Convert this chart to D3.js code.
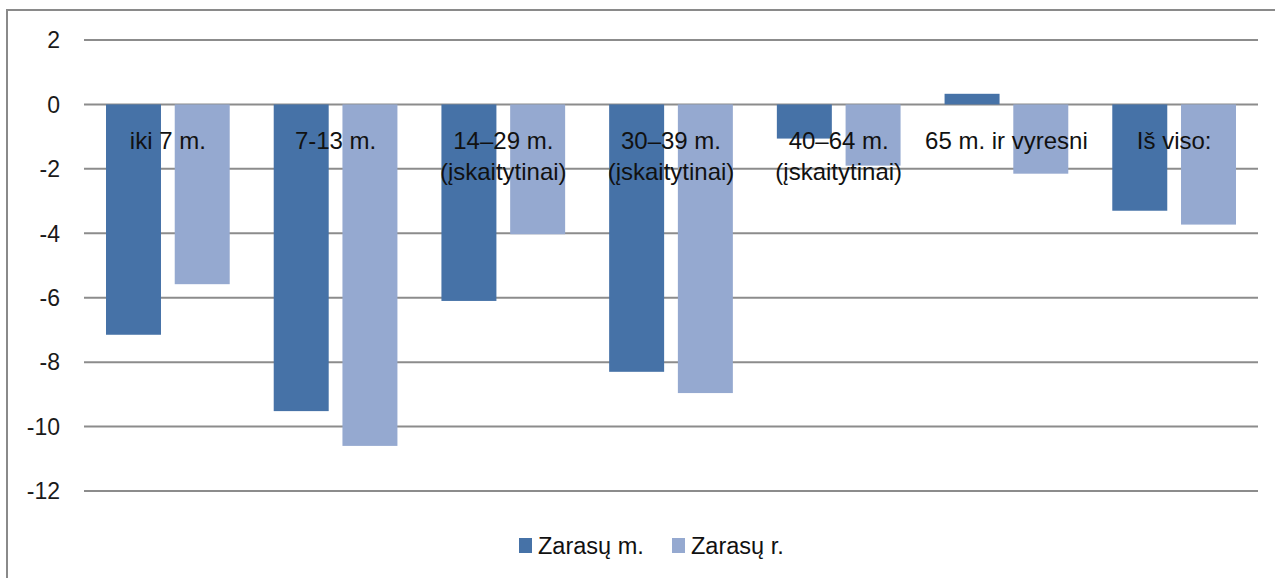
<!DOCTYPE html>
<html><head><meta charset="utf-8">
<script src="https://cdn.jsdelivr.net/npm/d3@7"></script>
<style>body{margin:0;background:#fff;} svg{display:block;}</style>
</head><body>
<svg id="c" width="1275" height="578"></svg>
<script>
const categories = [["iki 7 m."],["7-13 m."],["14–29 m.","(įskaitytinai)"],["30–39 m.","(įskaitytinai)"],["40–64 m.","(įskaitytinai)"],["65 m. ir vyresni"],["Iš viso:"]];
const seriesNames = ["Zarasų m.","Zarasų r."];
const zarasuM = [-7.15,-9.52,-6.1,-8.3,-1.06,0.33,-3.3];
const zarasuR = [-5.58,-10.6,-4.03,-8.96,-1.9,-2.15,-3.73];
const yTicks = [2,0,-2,-4,-6,-8,-10,-12];
const colors = ["#4672A7","#95A9D0"];

const svg = d3.select("#c");
const font = "'Liberation Sans', Arial, sans-serif";
// border
svg.append("path").attr("d","M7,578 V10 H1275").attr("fill","none").attr("stroke","#8a8a8a").attr("stroke-width",2);

const x0 = d3.scaleBand().domain(d3.range(categories.length)).range([84,1258]).paddingInner(0).paddingOuter(0);
const x1 = d3.scaleBand().domain([0,1]).range([22,x0.bandwidth()-22]).paddingInner(0.2);
const y = d3.scaleLinear().domain([-12,2]).range([491,40]);

// grid
svg.append("g").selectAll("line").data(yTicks).join("line")
  .attr("x1",84).attr("x2",1258).attr("y1",d=>y(d)).attr("y2",d=>y(d))
  .attr("stroke","#8c8c8c").attr("stroke-width",2);

// y axis labels
svg.append("g").selectAll("text").data(yTicks).join("text")
  .attr("x",60).attr("y",d=>y(d)).attr("dy","0.36em").attr("text-anchor","end")
  .attr("font-family",font).attr("font-size",23).attr("fill","#1a1a1a")
  .text(d=>d);

const series = [zarasuM, zarasuR];
series.forEach((vals,si)=>{
  svg.append("g").selectAll("rect").data(vals).join("rect")
    .attr("x",(d,i)=>x0(i)+x1(si)).attr("width",x1.bandwidth())
    .attr("y",d=>y(Math.max(0,d))).attr("height",d=>Math.abs(y(d)-y(0)))
    .attr("fill",colors[si]);
});

// category labels
const lab = svg.append("g");
categories.forEach((lines,i)=>{
  const t = lab.append("text").attr("text-anchor","middle")
    .attr("font-family",font).attr("font-size",24).attr("fill","#111");
  lines.forEach((l,j)=>{
    t.append("tspan").attr("x",x0(i)+x0.bandwidth()/2).attr("y",140+j*31).attr("dy","0.36em").text(l);
  });
});

// legend
const leg = svg.append("g");
const legX = [519,672];
seriesNames.forEach((n,i)=>{
  leg.append("rect").attr("x",legX[i]).attr("y",538).attr("width",13).attr("height",15).attr("fill",colors[i]);
  leg.append("text").attr("x",legX[i]+19).attr("y",546).attr("dy","0.36em")
    .attr("font-family",font).attr("font-size",23.5).attr("fill","#111").text(n);
});
</script>
</body></html>
